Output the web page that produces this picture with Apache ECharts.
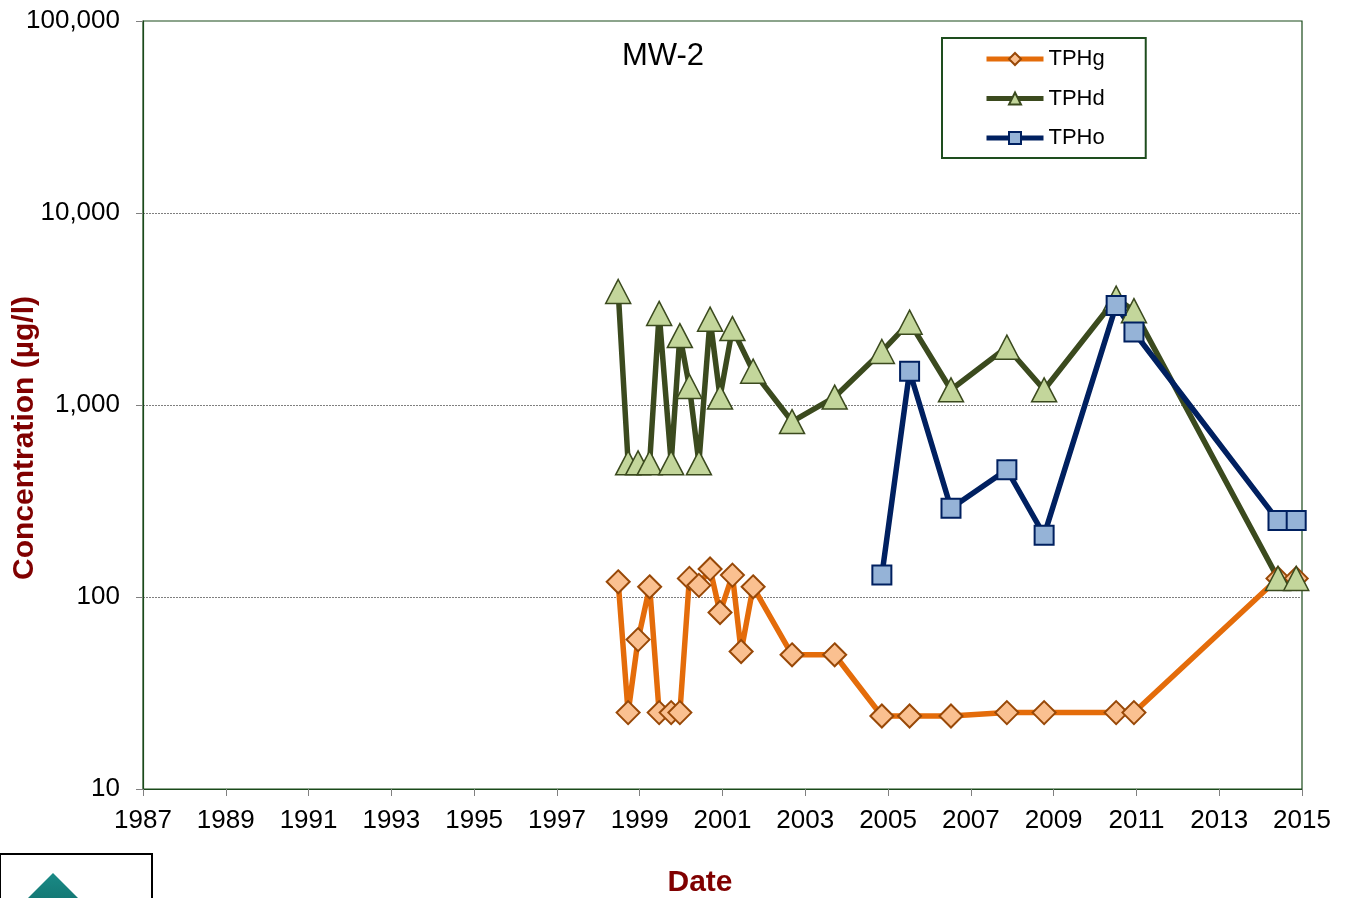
<!DOCTYPE html>
<html>
<head>
<meta charset="utf-8">
<script src="https://cdn.jsdelivr.net/npm/echarts@6/dist/echarts.min.js"></script>
<style>html,body{margin:0;padding:0;background:#fff}#c{width:1348px;height:898px}</style>
</head>
<body>
<div id="c"></div>
<script>
// Sample dates (decimal years)
const sampleDates = [1998.48, 1998.72, 1998.96, 1999.24, 1999.47, 1999.76, 1999.97, 2000.20, 2000.43, 2000.70,
  2000.94, 2001.24, 2001.45, 2001.74, 2002.68, 2003.71, 2004.85, 2005.52, 2006.52, 2007.87,
  2008.77, 2010.51, 2010.94, 2014.42, 2014.86];
const tphg = [120, 25, 60, 113, 25, 25, 25, 125, 115, 140, 83, 130, 52, 113, 50, 50, 24, 24, 24, 25, 25, 25, 25, 125, 125];
const tphd = [3900, 500, 500, 500, 3000, 500, 2300, 1250, 500, 2800, 1100, 2500, null, 1500, 820, 1100, 1900, 2700, 1200, 2000, 1200, 3600, 3100, 125, 125];
const tpho = [null, null, null, null, null, null, null, null, null, null, null, null, null, null, null, null, 130, 1500, 290, 460, 210, 3300, 2400, 250, 250];
const seriesNames = ['TPHg', 'TPHd', 'TPHo'];
const xMin = 1987, xMax = 2015, xStep = 2;
const yMin = 10, yMax = 100000;
const chartTitle = 'MW-2';
const yTitle = 'Concentration (µg/l)';
const xTitle = 'Date';

const FONT = '"Liberation Sans", Arial, sans-serif';
const pairs = vals => sampleDates.map((d, i) => [d, vals[i]]);
const fmtNum = v => String(Math.round(v)).replace(/\B(?=(\d{3})+(?!\d))/g, ',');

const chart = echarts.init(document.getElementById('c'), null, {renderer: 'canvas'});
chart.setOption({
  animation: false,
  backgroundColor: '#ffffff',
  textStyle: {fontFamily: FONT},
  legend: {
    data: seriesNames,
    orient: 'vertical',
    left: 942, top: 38,
    padding: [10, 41, 9, 42],
    itemWidth: 57, itemHeight: 15, itemGap: 17.5, itemTextGap: 3,
    borderColor: '#1E4D1E', borderWidth: 2,
    backgroundColor: '#fff',
    lineStyle: {width: 5},
    textStyle: {fontFamily: FONT, fontSize: 22, lineHeight: 22, color: '#000'}
  },
  grid: {
    left: 143, right: 46, top: 21, bottom: 109,
    show: true, borderColor: '#1A4A1A', borderWidth: 1.2, containLabel: false
  },
  xAxis: {
    type: 'value', min: xMin, max: xMax, interval: xStep,
    axisLine: {show: true, lineStyle: {color: '#1A4A1A', width: 1.2}},
    axisTick: {show: true, length: 7, lineStyle: {color: '#808080'}},
    axisLabel: {fontFamily: FONT, fontSize: 26, color: '#000', margin: 19, formatter: v => String(v)},
    splitLine: {show: false}
  },
  yAxis: {
    type: 'log', logBase: 10, min: yMin, max: yMax,
    axisLine: {show: true, lineStyle: {color: '#1A4A1A', width: 1.2}},
    axisTick: {show: true, length: 7, lineStyle: {color: '#808080'}},
    axisLabel: {fontFamily: FONT, fontSize: 26, color: '#000', margin: 23, formatter: v => fmtNum(v)},
    splitLine: {show: true, showMinLine: false, showMaxLine: false, lineStyle: {color: '#7f7f7f', type: [2, 1], width: 1}},
    minorTick: {show: false}
  },
  graphic: [
    {type: 'text', x: 663, y: 56,
      style: {text: chartTitle, fill: '#000', font: '31px ' + FONT, textAlign: 'center', textVerticalAlign: 'middle'}},
    {type: 'text', x: 25, y: 438, rotation: Math.PI / 2,
      style: {text: yTitle, fill: '#800000', font: 'bold 30px ' + FONT, textAlign: 'center', textVerticalAlign: 'middle'}},
    {type: 'text', x: 700, y: 883,
      style: {text: xTitle, fill: '#800000', font: 'bold 30px ' + FONT, textAlign: 'center', textVerticalAlign: 'middle'}},
    {type: 'rect', shape: {x: 0, y: 854, width: 152, height: 60}, style: {fill: '#fff', stroke: '#000', lineWidth: 2}},
    {type: 'polygon', shape: {points: [[53, 873], [86, 906], [53, 939], [20, 906]]},
      style: {fill: new echarts.graphic.LinearGradient(0, 0, 0, 1, [{offset: 0, color: '#1a8a86'}, {offset: 1, color: '#0b5d5a'}])}}
  ],
  series: [
    {
      name: seriesNames[0], type: 'line', data: pairs(tphg), connectNulls: true,
      symbol: 'diamond', symbolSize: 23,
      lineStyle: {color: '#E46C0A', width: 5.5},
      itemStyle: {color: '#FAC090', borderColor: '#984807', borderWidth: 2}
    },
    {
      name: seriesNames[1], type: 'line', data: pairs(tphd), connectNulls: true,
      symbol: 'triangle', symbolSize: [25, 24],
      lineStyle: {color: '#3B4A1E', width: 5.5},
      itemStyle: {color: '#C3D69B', borderColor: '#3B4A1E', borderWidth: 1.5}
    },
    {
      name: seriesNames[2], type: 'line', data: pairs(tpho), connectNulls: true,
      symbol: 'rect', symbolSize: 19,
      lineStyle: {color: '#002060', width: 5.5},
      itemStyle: {color: '#95B3D7', borderColor: '#002060', borderWidth: 2}
    }
  ]
});
</script>
</body>
</html>
